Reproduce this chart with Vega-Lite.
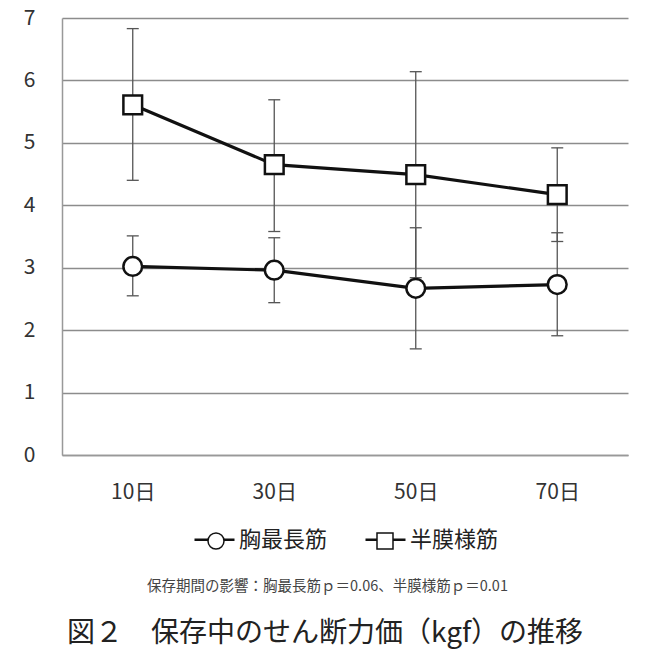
{
  "$schema": "https://vega.github.io/schema/vega-lite/v6.json",
  "width": 566,
  "height": 437,
  "autosize": {"type": "none"},
  "padding": {"left": 62, "top": 18, "right": 22, "bottom": 206},
  "background": "white",
  "config": {
    "view": {"stroke": null},
    "font": "Noto Sans CJK JP"
  },
  "title": {
    "text": "図２　保存中のせん断力価（kgf）の推移",
    "orient": "bottom",
    "anchor": "middle",
    "frame": "group",
    "offset": 27,
    "dx": -20,
    "font": "Noto Sans CJK JP",
    "fontSize": 28,
    "fontWeight": "normal",
    "color": "#222222"
  },
  "data": {
    "values": [
      {"day": "10日", "series": "胸最長筋", "mean": 3.02, "lo": 2.55, "hi": 3.51},
      {"day": "30日", "series": "胸最長筋", "mean": 2.96, "lo": 2.44, "hi": 3.48},
      {"day": "50日", "series": "胸最長筋", "mean": 2.67, "lo": 1.70, "hi": 3.64},
      {"day": "70日", "series": "胸最長筋", "mean": 2.73, "lo": 1.91, "hi": 3.56},
      {"day": "10日", "series": "半膜様筋", "mean": 5.61, "lo": 4.40, "hi": 6.83},
      {"day": "30日", "series": "半膜様筋", "mean": 4.65, "lo": 3.58, "hi": 5.69},
      {"day": "50日", "series": "半膜様筋", "mean": 4.49, "lo": 2.84, "hi": 6.14},
      {"day": "70日", "series": "半膜様筋", "mean": 4.17, "lo": 3.42, "hi": 4.92}
    ]
  },
  "encoding": {
    "x": {
      "field": "day",
      "type": "ordinal",
      "sort": ["10日", "30日", "50日", "70日"],
      "scale": {"type": "point", "padding": 0.5},
      "axis": {
        "title": "保存期間の影響：胸最長筋ｐ＝0.06、半膜様筋ｐ＝0.01",
        "titleFont": "Noto Sans CJK JP",
        "titleFontSize": 14.5,
        "titleFontWeight": "normal",
        "titleColor": "#444444",
        "titlePadding": 77,
        "titleX": 265,
        "labelAngle": 0,
        "labelFont": "Noto Sans CJK JP",
        "labelFontSize": 21,
        "labelColor": "#333333",
        "labelPadding": 26,
        "ticks": false,
        "grid": false,
        "domainColor": "#999999",
        "domainWidth": 1.5
      }
    }
  },
  "layer": [
    {
      "mark": {"type": "rule", "color": "#555555", "strokeWidth": 1.3},
      "encoding": {
        "y": {
          "field": "lo",
          "type": "quantitative",
          "scale": {"domain": [0, 7], "nice": false},
          "axis": {
            "title": null,
            "values": [0, 1, 2, 3, 4, 5, 6, 7],
            "format": "d",
            "labelFont": "Noto Sans CJK JP",
            "labelFontSize": 21,
            "labelColor": "#333333",
            "labelPadding": 27,
            "ticks": false,
            "grid": true,
            "gridColor": "#8c8c8c",
            "gridWidth": 1.6,
            "domainColor": "#999999",
            "domainWidth": 1.5
          }
        },
        "y2": {"field": "hi"}
      }
    },
    {
      "mark": {"type": "tick", "color": "#555555", "size": 12, "thickness": 1.3, "opacity": 1, "orient": "horizontal"},
      "encoding": {"y": {"field": "lo", "type": "quantitative"}}
    },
    {
      "mark": {"type": "tick", "color": "#555555", "size": 12, "thickness": 1.3, "opacity": 1, "orient": "horizontal"},
      "encoding": {"y": {"field": "hi", "type": "quantitative"}}
    },
    {
      "mark": {"type": "line", "strokeWidth": 3.2},
      "encoding": {
        "y": {"field": "mean", "type": "quantitative"},
        "color": {
          "field": "series",
          "type": "nominal",
          "sort": ["胸最長筋", "半膜様筋"],
          "scale": {"range": ["#111111", "#111111"]},
          "legend": {
            "title": null,
            "orient": "none",
            "direction": "horizontal",
            "legendX": 131,
            "legendY": 500,
            "symbolType": "stroke",
            "symbolSize": 1600,
            "symbolStrokeWidth": 2.5,
            "labelFont": "Noto Sans CJK JP",
            "labelFontSize": 22,
            "labelColor": "#222222",
            "labelOffset": 3,
            "columnPadding": 32
          }
        }
      }
    },
    {
      "mark": {"type": "point", "filled": false, "fill": "white", "stroke": "#111111", "strokeWidth": 2.5, "opacity": 1, "fillOpacity": 1, "size": 350},
      "encoding": {
        "y": {"field": "mean", "type": "quantitative"},
        "shape": {
          "field": "series",
          "type": "nominal",
          "scale": {"domain": ["胸最長筋", "半膜様筋"], "range": ["circle", "square"]},
          "legend": {
            "title": null,
            "orient": "none",
            "direction": "horizontal",
            "legendX": 143,
            "legendY": 512,
            "symbolSize": 256,
            "labelExpr": "''",
            "labelFontSize": 22,
            "labelOffset": 3,
            "columnPadding": 144
          }
        }
      }
    }
  ]
}
